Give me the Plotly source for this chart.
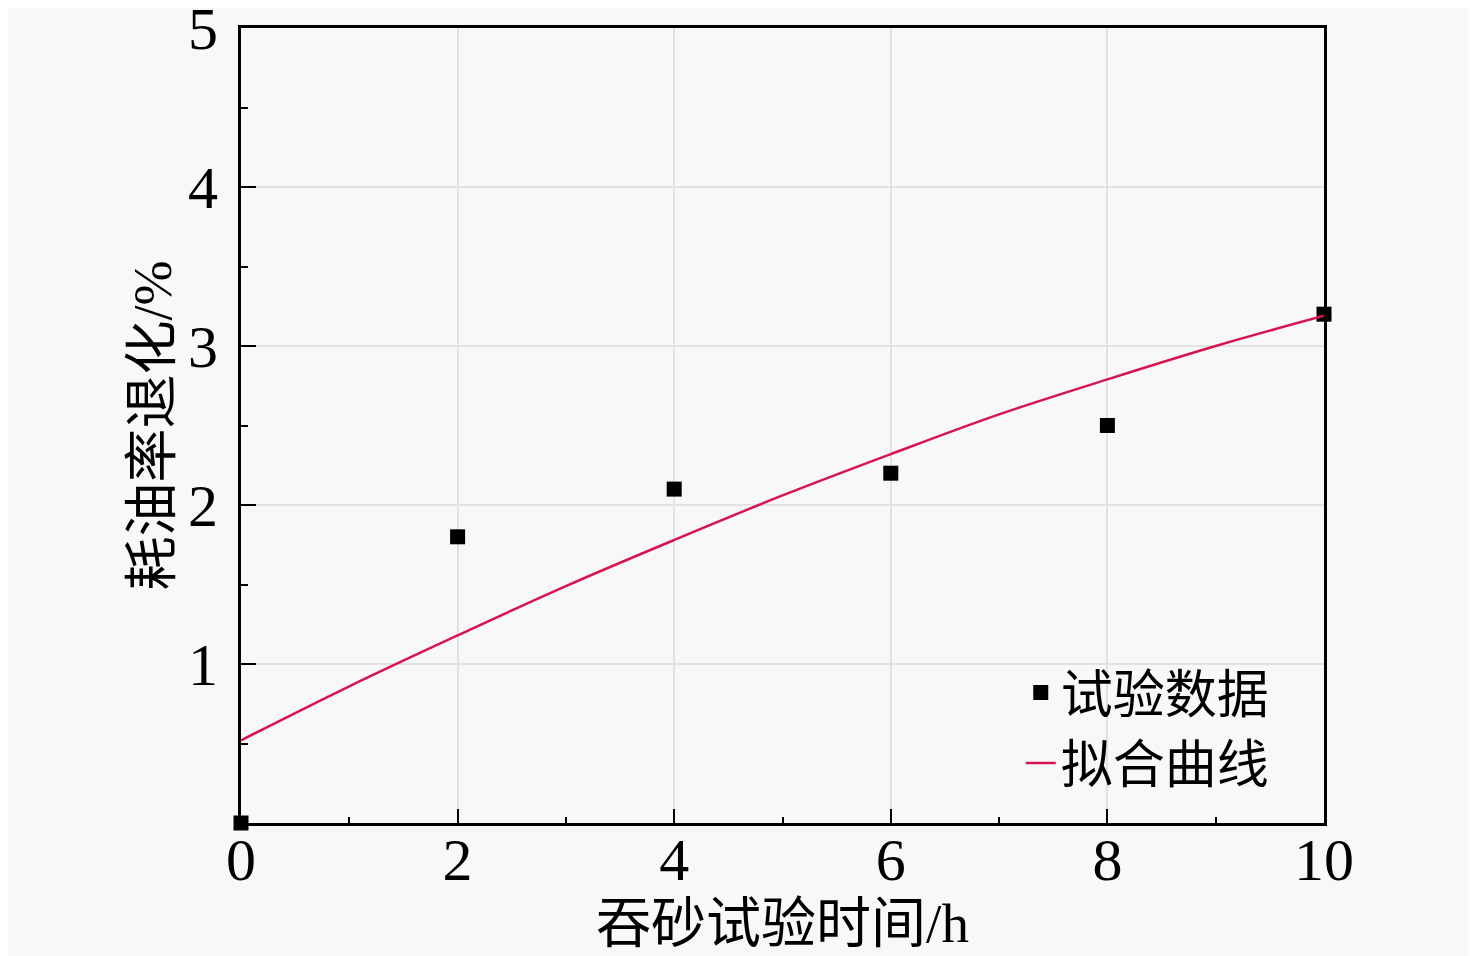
import plotly.graph_objects as go

# measured points (吞砂试验时间 h, 耗油率退化 %)
test_hours = [0, 2, 4, 6, 8, 10]
test_values = [0.0, 1.8, 2.1, 2.2, 2.5, 3.2]

# fitted curve
fit_hours = [0, 1, 2, 3, 4, 5, 6, 7, 8, 9, 10]
fit_values = [0.52, 0.86, 1.18, 1.49, 1.78, 2.06, 2.32, 2.57, 2.79, 3.00, 3.19]

x_ticks = [0, 2, 4, 6, 8, 10]
y_ticks = [1, 2, 3, 4, 5]

font_family = "Liberation Serif, Noto Sans CJK SC"
bg = "#f8f8f8"

# the page body has an 8px margin, so the figure is shifted by it
page_offset = 8

fig = go.Figure()

fig.add_trace(go.Scatter(
    x=test_hours,
    y=test_values,
    mode="markers",
    name="试验数据",
    marker=dict(symbol="square", size=15, color="black"),
    cliponaxis=False
))

fig.add_trace(go.Scatter(
    x=fit_hours,
    y=fit_values,
    mode="lines",
    name="拟合曲线",
    line=dict(color="#d6154f", width=2.5, shape="spline")
))

axis_common = dict(
    showline=True,
    linecolor="black",
    linewidth=3,
    mirror=True,
    ticks="inside",
    tickcolor="black",
    tickwidth=2,
    showgrid=True,
    gridcolor="#e2e2e2",
    gridwidth=2,
    zeroline=False,
    automargin=False,
    ticklabeloverflow="allow",
    tickfont=dict(family=font_family, size=60, color="black"),
)

fig.update_xaxes(
    range=[0, 10],
    tickvals=x_ticks,
    ticklen=14,
    ticklabelstandoff=-18,
    minor=dict(dtick=1, ticks="inside", ticklen=6, tickcolor="black", tickwidth=2, showgrid=False),
    title_text="吞砂试验时间/h",
    title_font=dict(family=font_family, size=55, color="black"),
    title_standoff=4,
    **axis_common
)

fig.update_yaxes(
    range=[0, 5],
    tickvals=y_ticks,
    ticklen=15,
    ticklabelstandoff=8,
    minor=dict(dtick=0.5, ticks="inside", ticklen=7, tickcolor="black", tickwidth=2, showgrid=False),
    title_text="耗油率退化/%",
    title_font=dict(family=font_family, size=54, color="black"),
    title_standoff=0,
    **axis_common
)

fig.update_layout(
    width=1476 - page_offset,
    height=956 - page_offset,
    margin=dict(l=241 - page_offset, r=152, t=28 - page_offset, b=133),
    paper_bgcolor=bg,
    plot_bgcolor=bg,
    showlegend=True,
    legend=dict(
        x=0.72,
        y=0.215,
        xanchor="left",
        yanchor="top",
        bgcolor="rgba(0,0,0,0)",
        font=dict(family=font_family, size=52, color="black"),
        tracegroupgap=0
    )
)

fig.write_html("out.html")
